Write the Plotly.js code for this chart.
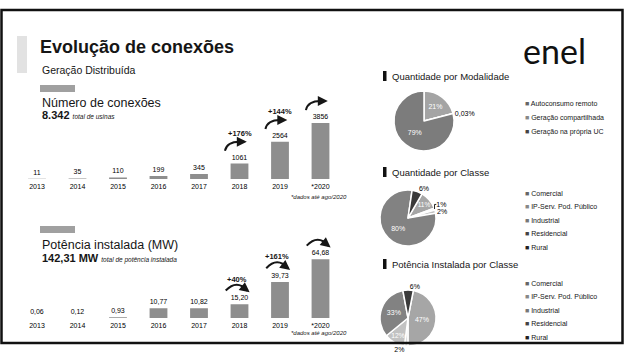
<!DOCTYPE html>
<html>
<head>
<meta charset="utf-8">
<script src="https://cdn.plot.ly/plotly-3.0.1.min.js"></script>
<style>
  html, body { margin: 0; padding: 0; background: #fff; }
  #chart { width: 625px; height: 354px; }
</style>
</head>
<body>
<div id="chart"></div>
<script>
// ---- data ----
const yearIndex = [0, 1, 2, 3, 4, 5, 6, 7];
const yearLabels = ['2013', '2014', '2015', '2016', '2017', '2018', '2019', '*2020'];
const connections = [11, 35, 110, 199, 345, 1061, 2564, 3856];
const power = [0.06, 0.12, 0.93, 10.77, 10.82, 15.20, 39.73, 64.68];
const connGrowth = ['+176%', '+144%', '+53%'];   // 2017→2018, 2018→2019, 2019→2020
const powerGrowth = ['+40%', '+161%', '+63%'];

const modalLabels = ['Autoconsumo remoto', 'Geração compartilhada', 'Geração na própria UC'];
const modalValues = [21, 0.03, 79];
const modalText = ['21%', '0,03%', '79%'];

const classLabels = ['Comercial', 'IP-Serv. Pod. Público', 'Industrial', 'Residencial', 'Rural'];
const classCountValues = [11, 1, 2, 80, 6];
const classCountText = ['11%', '1%', '2%', '80%', '6%'];
const classPowerValues = [47, 2, 12, 33, 6];
const classPowerText = ['47%', '2%', '12%', '33%', '6%'];

// ---- helpers (page pixels -> paper fractions) ----
const W = 625, H = 354;
const px = x => x / W;
const py = y => 1 - y / H;
const FONT = 'Liberation Sans, Arial, sans-serif';
const INK = '#161616';

const modalColors = ['#a4a4a4', '#d2d2d2', '#7c7c7c'];
const classColors = ['#a6a6a6', '#dcdcdc', '#c2c2c2', '#828282', '#3a3a3a'];

// ---- bars ----
const connTrace = {
  type: 'bar', x: yearIndex, y: connections, xaxis: 'x', yaxis: 'y',
  width: 0.44,
  marker: { color: '#8e8e8e', line: { width: 0 } },
  text: connections.map(String), textposition: 'outside', constraintext: 'none',
  textfont: { size: 7, color: '#000', family: FONT }, cliponaxis: false,
  hoverinfo: 'skip', showlegend: false
};
const powerTrace = {
  type: 'bar', x: yearIndex, y: power, xaxis: 'x2', yaxis: 'y2',
  width: 0.44,
  marker: { color: '#8e8e8e', line: { width: 0 } },
  texttemplate: '%{y:.2f}', textposition: 'outside', constraintext: 'none',
  textfont: { size: 7, color: '#000', family: FONT }, cliponaxis: false,
  hoverinfo: 'skip', showlegend: false
};

// ---- pies ----
function pie(values, labels, text, colors, cx, cy, r, rotation, positions) {
  return {
    type: 'pie', values: values, labels: labels, text: text,
    textinfo: 'text', textposition: positions, sort: false, direction: 'clockwise',
    rotation: rotation, hole: 0,
    domain: { x: [px(cx - r), px(cx + r)], y: [py(cy + r), py(cy - r)] },
    marker: { colors: colors, line: { color: '#ffffff', width: 1.5 } },
    textfont: { size: 7, color: '#000', family: FONT },
    insidetextfont: { size: 7, color: '#ffffff', family: FONT },
    insidetextorientation: 'horizontal',
    hoverinfo: 'skip', showlegend: false
  };
}
const pie1 = pie(modalValues, modalLabels, modalText, modalColors, 424, 121, 30, 0,
                 ['inside', 'outside', 'inside']);
const pie2 = pie(classCountValues, classLabels, classCountText, classColors, 408, 218, 28, 30,
                 ['inside', 'outside', 'outside', 'inside', 'outside']);
const pie3 = pie(classPowerValues, classLabels, classPowerText, classColors, 408, 318, 28, 11,
                 ['inside', 'outside', 'inside', 'inside', 'outside']);

// ---- decorations ----
const shapes = [];
const annotations = [];

function text(x, y, t, size, opts) {
  annotations.push(Object.assign({
    xref: 'paper', yref: 'paper', x: px(x), y: py(y), text: t, showarrow: false,
    xanchor: 'left', yanchor: 'middle', font: { size: size, color: INK, family: FONT }
  }, opts || {}));
}
function rect(x0, y0, x1, y1, fill, line) {
  shapes.push({ type: 'rect', xref: 'paper', yref: 'paper', layer: 'below',
    x0: px(x0), x1: px(x1), y0: py(y1), y1: py(y0),
    fillcolor: fill, line: line || { width: 0 } });
}

// frame
shapes.push({ type: 'rect', xref: 'paper', yref: 'paper', x0: px(1.5), x1: px(622.5), y0: py(343), y1: py(10),
  line: { color: '#111', width: 2.5 }, fillcolor: 'rgba(0,0,0,0)' });

// left accent bar and section tags
rect(17, 36, 27, 73, '#e2e2e2');
rect(40, 85, 75, 92, '#a0a0a0');
rect(40, 226, 75, 233, '#a0a0a0');

// headings
text(38, 47, '<b>Evolução de conexões</b>', 18);
text(40, 70, 'Geração Distribuída', 10.5);
text(40, 103, 'Número de conexões', 12.5);
text(40, 115, '<b>8.342</b> <i><span style="font-size:6.5px">total de usinas</span></i>', 11);
text(40, 245, 'Potência instalada (MW)', 12.5);
text(40, 258, '<b>142,31 MW</b> <i><span style="font-size:6.5px">total de potência instalada</span></i>', 11);

// footnotes
text(349, 197, '<i>*dados até ago/2020</i>', 6, { xanchor: 'right' });
text(349, 333, '<i>*dados até ago/2020</i>', 6, { xanchor: 'right' });

// logo
text(554, 50, 'enel', 34, { xanchor: 'center', font: { size: 34, color: '#111', family: 'Lato, Noto Sans, sans-serif' } });

// pie section titles
const pieTitles = [['Quantidade por Modalidade', 76], ['Quantidade por Classe', 172], ['Potência Instalada por Classe', 264]];
pieTitles.forEach(([t, y]) => {
  rect(383, y - 5, 386.5, y + 5, '#111');
  text(390, y, t, 9.5);
});

// legends built from the slice labels
function legendBlock(labels, colors, y0, step) {
  labels.forEach((lab, k) => {
    text(523, y0 + k * step, '<span style="color:' + colors[k] + '">■</span> ' + lab, 7);
  });
}
legendBlock(modalLabels, ['#666', '#888', '#444'], 104, 14);
legendBlock(classLabels, ['#666', '#888', '#777', '#444', '#222'], 193, 13.6);
legendBlock(classLabels, ['#666', '#888', '#777', '#444', '#222'], 283, 13.6);

// growth arrows on the connections chart (rise, then bend right over the next bar)
connGrowth.forEach((lab, k) => {
  const i = 4 + k;
  const top = connections[i + 1];
  const x0 = i + 0.64, x1 = i + 1.1, y1 = top + 1500, y0 = y1 - 620;
  shapes.push({ type: 'path', xref: 'x', yref: 'y',
    path: `M${x0},${y0} Q${x0 + 0.05},${y1} ${x1 - 0.1},${y1}`, line: { color: INK, width: 2 } });
  annotations.push({ xref: 'x', yref: 'y', axref: 'x', ayref: 'y', x: x1 + 0.08, y: y1, ax: x1 - 0.14, ay: y1,
    showarrow: true, arrowhead: 2, arrowsize: 1, arrowwidth: 2, arrowcolor: INK, standoff: 0, text: '' });
  annotations.push({ xref: 'x', yref: 'y', x: i + 1.0, y: y1 + 560, text: '<b>' + lab + '</b>', showarrow: false,
    font: { size: 7.5, color: INK, family: FONT } });
});

// growth arcs on the installed-power chart
powerGrowth.forEach((lab, k) => {
  const i = 4 + k;
  const top = power[i + 1];
  const x0 = i + 0.66, x1 = i + 1.2, y = top + 15, yc = y + 13, xm = (x0 + x1) / 2;
  shapes.push({ type: 'path', xref: 'x2', yref: 'y2',
    path: `M${x0},${y} Q${xm},${yc} ${x1},${y}`, line: { color: INK, width: 2 } });
  annotations.push({ xref: 'x2', yref: 'y2', axref: 'x2', ayref: 'y2', x: x1 + 0.05, y: y - 2, ax: x1 - 0.12, ay: y + 4,
    showarrow: true, arrowhead: 2, arrowsize: 1, arrowwidth: 2, arrowcolor: INK, standoff: 0, text: '' });
  annotations.push({ xref: 'x2', yref: 'y2', x: i + 0.93, y: y + 12.5, text: '<b>' + lab + '</b>', showarrow: false,
    font: { size: 7.5, color: INK, family: FONT } });
});

// ---- axes ----
const xStep = 40.5, xFirst = 37;
const xDomain = [px(xFirst - xStep / 2), px(xFirst + 7.5 * xStep)];
const xAxisBase = {
  range: [-0.5, 7.5], tickvals: yearIndex, ticktext: yearLabels, ticks: '',
  showgrid: false, zeroline: false, showline: false, fixedrange: true,
  tickfont: { size: 7, color: '#000', family: FONT }, ticklabelstandoff: 2, domain: xDomain
};
const layout = {
  width: W, height: H, margin: { l: 0, r: 0, t: 0, b: 0 },
  paper_bgcolor: '#ffffff', plot_bgcolor: 'rgba(0,0,0,0)',
  separators: ',.', font: { family: FONT, color: INK },
  showlegend: false,
  xaxis: Object.assign({}, xAxisBase, { anchor: 'y' }),
  yaxis: { domain: [py(179), py(99)], range: [0, 5500], visible: false, fixedrange: true },
  xaxis2: Object.assign({}, xAxisBase, { anchor: 'y2' }),
  yaxis2: { domain: [py(318), py(238)], range: [0, 88], visible: false, fixedrange: true },
  shapes: shapes, annotations: annotations
};

Plotly.newPlot('chart', [connTrace, powerTrace, pie1, pie2, pie3], layout, { staticPlot: true, displayModeBar: false });
</script>
</body>
</html>
